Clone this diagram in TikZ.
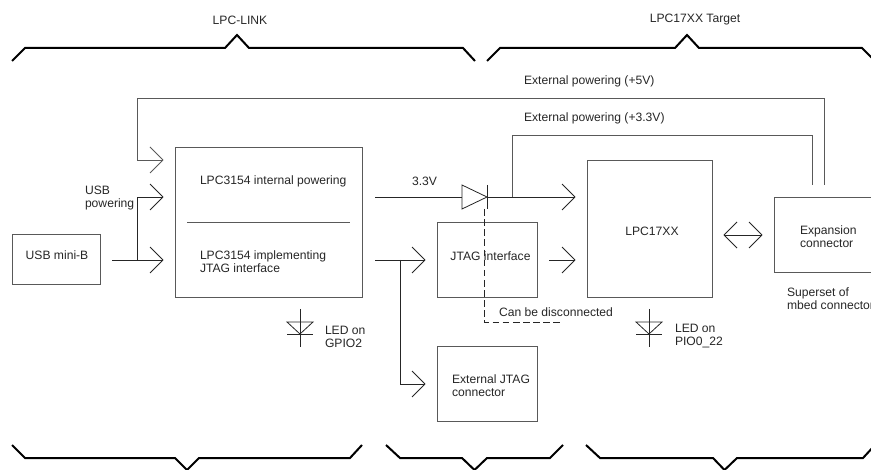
\documentclass[tikz,border=0pt]{standalone}
\usepackage{fontspec}
\setmainfont{Liberation Sans}
\usetikzlibrary{arrows.meta,calc}
\definecolor{ln}{gray}{0.35}
\newcommand{\fs}{\fontsize{9.1}{9.75}\selectfont}
\pgfdeclarearrow{
  name=OpenVee,
  setup code={\pgfarrowssettipend{0pt}\pgfarrowssetlineend{-0.6pt}\pgfarrowssetbackend{-9.75pt}\pgfarrowssetvisualbackend{-9.75pt}},
  drawing code={
    \pgfsetdash{}{0pt}\pgfsetlinewidth{0.6pt}\pgfsetroundjoin
    \pgfpathmoveto{\pgfqpoint{-9.75pt}{9.75pt}}
    \pgfpathlineto{\pgfqpoint{0pt}{0pt}}
    \pgfpathlineto{\pgfqpoint{-9.75pt}{-9.75pt}}
    \pgfusepathqstroke
  }
}
\tikzset{
  x=0.75pt,y=-0.75pt,
  every node/.style={font=\fs,text=black!85,inner sep=0pt,outer sep=0pt},
  box/.style={draw=ln,line width=0.7pt},
  lbl/.style={align=left,anchor=west},
  clbl/.style={align=center,anchor=center},
  wire/.style={draw=black!85,line width=0.6pt},
  arr/.style={wire,-{OpenVee}},
  darr/.style={wire,{OpenVee}-{OpenVee}},
  brace/.style={draw=black,line width=1.5pt,line join=miter},
  dashline/.style={draw=black!85,line width=0.6pt,dash pattern=on 5pt off 2.6pt},
  pw/.style={draw=ln,line width=0.7pt},
}
\newcommand{\boxat}[5]{\node[box,anchor=north west,minimum width=#4*0.75pt,minimum height=#5*0.75pt] (#1) at (#2,#3) {};}
\newcommand{\ledat}[1]{%
  \coordinate (ledt#1) at (#1,309); \coordinate (ledb#1) at (#1,347);
  \draw[wire] (ledt#1) -- (ledb#1);
  \draw[wire] (#1-13,322) -- (#1+13,322) -- (#1,334) -- cycle;
  \draw[wire] (#1-13,334) -- (#1+13,334);
}
\begin{document}
\begin{tikzpicture}
\useasboundingbox (0,0) rectangle (871,470);
% braces
\draw[brace] (12,61) -- (25,48) -- (225,48) -- (237,35) -- (249,48) -- (463,48) -- (475,61);
\draw[brace] (487,61) -- (500,48) -- (675,48) -- (687,35) -- (699,48) -- (862,48) -- (875,61);
\draw[brace] (12,445) -- (25,458) -- (175,458) -- (187,470) -- (199,458) -- (350,458) -- (362,445);
\draw[brace] (386,445) -- (400,458) -- (462,458) -- (474.5,470) -- (487,458) -- (550,458) -- (563,445);
\draw[brace] (586,445) -- (600,458) -- (713,458) -- (724.5,470) -- (737,458) -- (863,458) -- (875,445);
\node[clbl] (tlink) at (240,20) {LPC-LINK};
\node[clbl] (ttarget) at (695,20) {LPC17XX Target};
% boxes
\boxat{usb}{12}{234}{88}{50}
\boxat{main}{175}{147}{187}{150}
\boxat{jtag}{437}{222}{100}{75}
\boxat{ext}{437}{346}{100}{75}
\boxat{lpc}{587}{160}{125}{137}
\boxat{exp}{774}{197}{100}{75}
\draw[pw] (187,222) coordinate (da) -- (350,222) coordinate (db);
% texts
\node[clbl] (t1) at (57,255) {USB mini-B};
\node[lbl] (t2) at (200,181) {LPC3154 internal powering};
\node[lbl] (t3) at (200,261.5) {LPC3154 implementing\\JTAG interface};
\node[lbl] (t4) at (85,198.5) {USB\\powering};
\node[lbl] (t5) at (412,181) {3.3V};
\node[clbl] (t6) at (490.5,256) {JTAG interface};
\node[clbl] (t7) at (652,231) {LPC17XX};
\node[lbl] (t8) at (800,237) {Expansion\\connector};
\node[lbl] (t9) at (787,298.5) {Superset of\\mbed connector};
\node[lbl] (t10) at (452,385.5) {External JTAG\\connector};
\node[clbl] (t11) at (556,312) {Can be disconnected};
\node[lbl] (t12) at (325,336.5) {LED on\\GPIO2};
\node[lbl] (t13) at (675,336.5) {LED on\\PIO0\_22};
\node[lbl] (t14) at (524,81) {External powering (+5V)};
\node[lbl] (t15) at (524,118) {External powering (+3.3V)};
% connector end points
\coordinate (a0) at (112,260);
\coordinate (j1) at (137,260);
\coordinate (aMainB) at (163,260);
\coordinate (aMainM) at (163,197);
\coordinate (aMainT) at (163,160);
\coordinate (v0) at (375,197);
\coordinate (dL) at (462,197);
\coordinate (dR) at (487,197);
\coordinate (br) at (512,197);
\coordinate (brT) at (512,135);
\coordinate (aLpcT) at (575,197);
\coordinate (j0) at (375,260);
\coordinate (j2) at (400,260);
\coordinate (aJtag) at (425,260);
\coordinate (aExt) at (425,384);
\coordinate (l0) at (549,260);
\coordinate (aLpcM) at (575,260);
\coordinate (dblL) at (724,235);
\coordinate (dblR) at (762,235);
\coordinate (e33) at (812,185);
\coordinate (e5) at (824,185);
\coordinate (top5) at (137,98);
\coordinate (dsh) at (484,209);
\coordinate (dshE) at (563,322);
% connectors
\draw[arr] (a0) -- (aMainB);
\draw[arr] (j1) |- (aMainM);
\draw[pw,-{OpenVee}] (e5) |- (top5) |- (aMainT);
\draw[pw] (br) |- (e33 |- brT) -- (e33);
\draw[wire] (v0) -- (dL);
\draw[wire,fill=white] (462,185) -- (dR) -- (462,209) -- cycle;
\draw[wire] (487,185) -- (487,209);
\draw[arr] (dR) -- (aLpcT);
\draw[arr] (j0) -- (aJtag);
\draw[arr] (j2) |- (aExt);
\draw[arr] (l0) -- (aLpcM);
\draw[darr] (dblL) -- (dblR);
\draw[dashline] (dsh) |- (dshE);
\ledat{300}
\ledat{649}
\end{tikzpicture}
\end{document}
